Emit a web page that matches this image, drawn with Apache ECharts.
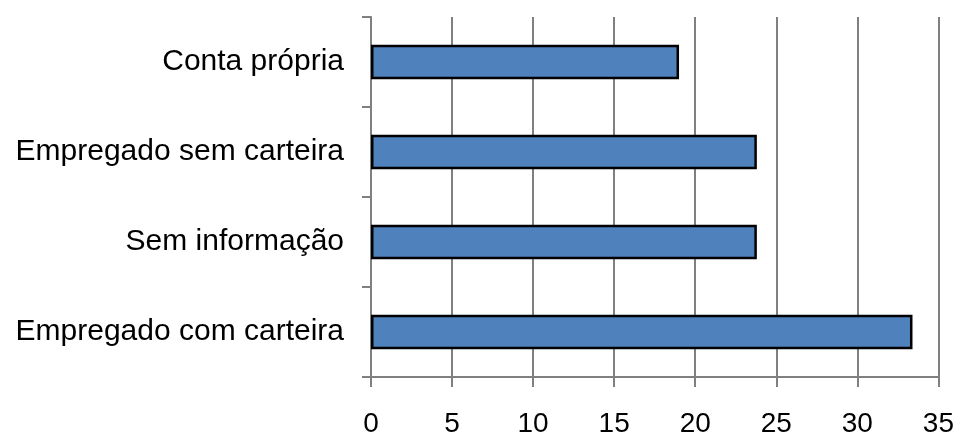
<!DOCTYPE html>
<html>
<head>
<meta charset="utf-8">
<script src="https://cdn.jsdelivr.net/npm/echarts@6/dist/echarts.min.js"></script>
<style>html,body{margin:0;padding:0;background:#fff;}#c{width:957px;height:438px;}</style>
</head>
<body>
<div id="c"></div>
<script>
const categories = ['Empregado com carteira', 'Sem informação', 'Empregado sem carteira', 'Conta própria'];
const values = [33.4, 23.8, 23.8, 19.0];
const xTicks = [0, 5, 10, 15, 20, 25, 30, 35];

const chart = echarts.init(document.getElementById('c'), null, {renderer: 'canvas'});
const grey = '#808080';
chart.setOption({
  animation: false,
  grid: {left: 371, right: 16, top: 17, bottom: 58, containLabel: false},
  xAxis: {
    type: 'value', min: xTicks[0], max: xTicks[xTicks.length - 1], interval: 5,
    axisLine: {show: true, lineStyle: {color: grey, width: 2}},
    axisTick: {show: true, length: 10, lineStyle: {color: grey, width: 2}},
    splitLine: {show: true, lineStyle: {color: grey, width: 2}},
    axisLabel: {color: '#000', fontSize: 28, fontFamily: 'Liberation Sans, Arial, sans-serif', margin: 33}
  },
  yAxis: {
    type: 'category', data: categories,
    axisLine: {show: true, lineStyle: {color: grey, width: 2}},
    axisTick: {show: true, length: 9, lineStyle: {color: grey, width: 2}},
    axisLabel: {color: '#000', fontSize: 30, fontFamily: 'Liberation Sans, Arial, sans-serif', margin: 27}
  },
  series: [{
    type: 'bar', data: values, barWidth: '38.5%',
    itemStyle: {color: '#4F81BD', borderColor: '#000', borderWidth: 2.5}
  }]
});
</script>
</body>
</html>
